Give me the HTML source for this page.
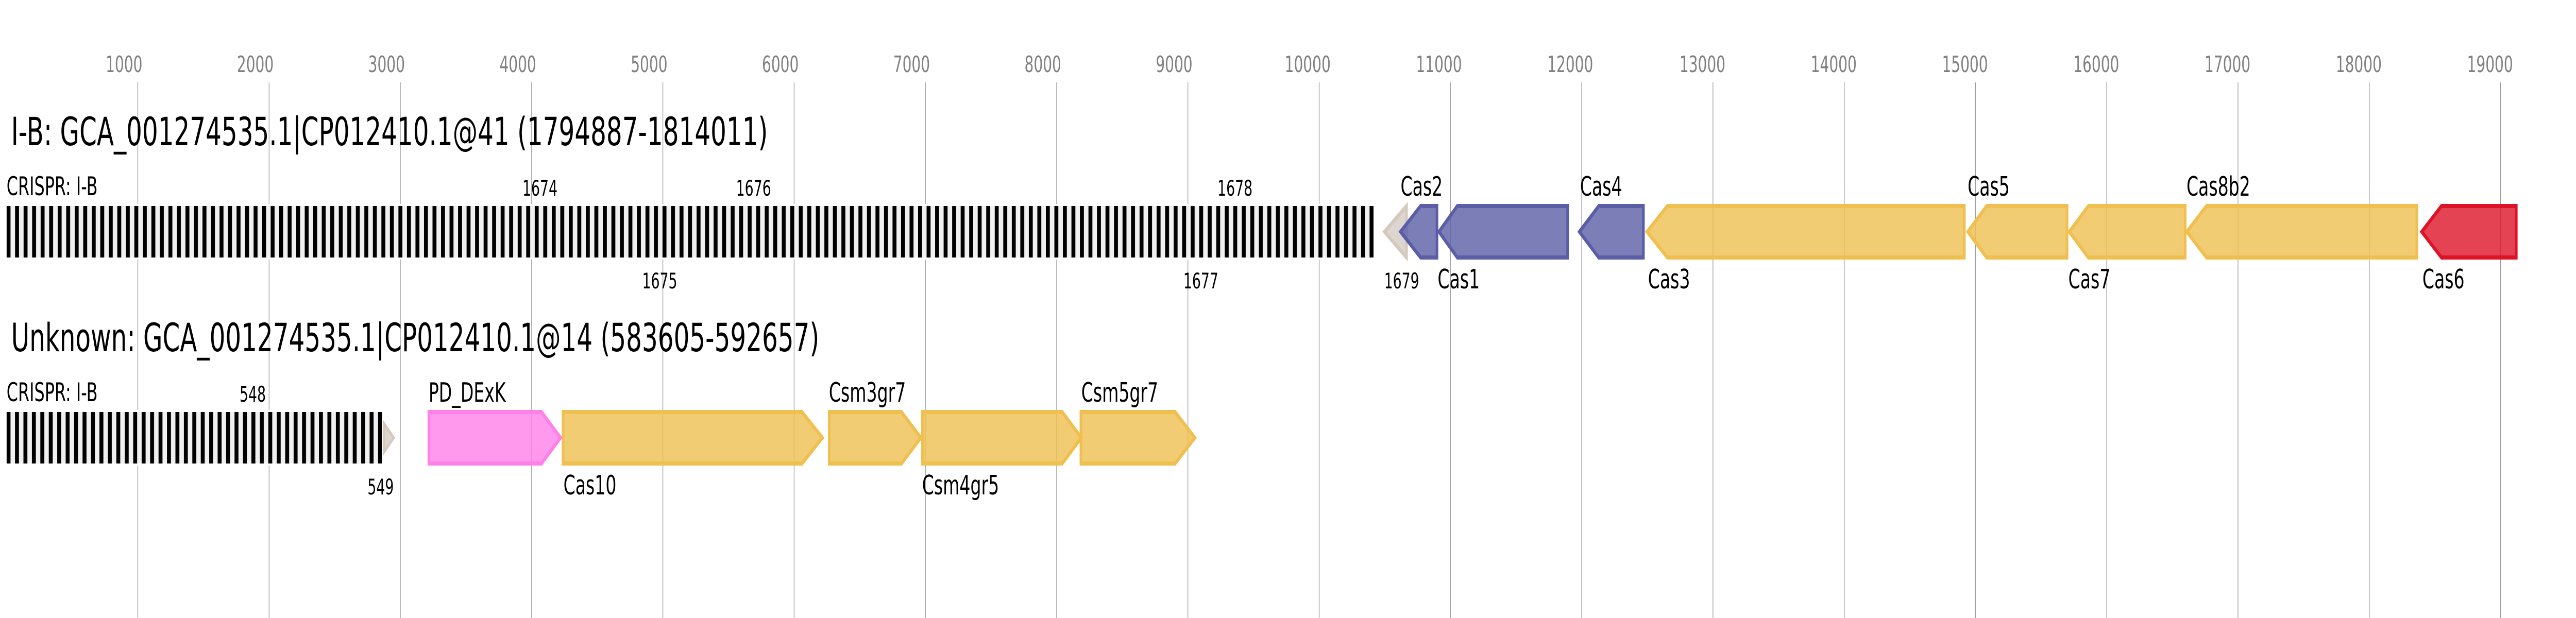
<!DOCTYPE html>
<html><head><meta charset="utf-8"><style>html,body{margin:0;padding:0;background:#fff;width:100%;height:100%;overflow:hidden}svg{display:block;width:100vw;height:100vh}</style></head>
<body>
<svg viewBox="0 0 7850 1200" preserveAspectRatio="none" xmlns="http://www.w3.org/2000/svg" font-family="'DejaVu Sans','Liberation Sans',sans-serif">
<defs>
<pattern id="rep" patternUnits="userSpaceOnUse" x="20" y="0" width="25.96" height="10">
<rect x="0" y="0" width="25.96" height="10" fill="#f0f0f0"/>
<rect x="0" y="0" width="12" height="10" fill="#000"/>
</pattern>
<pattern id="rep2" patternUnits="userSpaceOnUse" x="20" y="0" width="25.73" height="10">
<rect x="0" y="0" width="25.73" height="10" fill="#f0f0f0"/>
<rect x="0" y="0" width="12" height="10" fill="#000"/>
</pattern>
</defs>
<rect width="7850" height="1200" fill="#fff"/>
<g stroke="#9a9a9a" stroke-width="2">
<line x1="420" y1="160" x2="420" y2="1200"/><line x1="820" y1="160" x2="820" y2="1200"/><line x1="1220" y1="160" x2="1220" y2="1200"/><line x1="1620" y1="160" x2="1620" y2="1200"/><line x1="2020" y1="160" x2="2020" y2="1200"/><line x1="2420" y1="160" x2="2420" y2="1200"/><line x1="2820" y1="160" x2="2820" y2="1200"/><line x1="3220" y1="160" x2="3220" y2="1200"/><line x1="3620" y1="160" x2="3620" y2="1200"/><line x1="4020" y1="160" x2="4020" y2="1200"/><line x1="4420" y1="160" x2="4420" y2="1200"/><line x1="4820" y1="160" x2="4820" y2="1200"/><line x1="5220" y1="160" x2="5220" y2="1200"/><line x1="5620" y1="160" x2="5620" y2="1200"/><line x1="6020" y1="160" x2="6020" y2="1200"/><line x1="6420" y1="160" x2="6420" y2="1200"/><line x1="6820" y1="160" x2="6820" y2="1200"/><line x1="7220" y1="160" x2="7220" y2="1200"/><line x1="7620" y1="160" x2="7620" y2="1200"/>
</g>
<g fill="#808080" font-size="44" text-anchor="middle">
<text x="378" y="140">1000</text><text x="778" y="140">2000</text><text x="1178" y="140">3000</text><text x="1578" y="140">4000</text><text x="1978" y="140">5000</text><text x="2378" y="140">6000</text><text x="2778" y="140">7000</text><text x="3178" y="140">8000</text><text x="3578" y="140">9000</text><text x="3985" y="140">10000</text><text x="4385" y="140">11000</text><text x="4785" y="140">12000</text><text x="5188" y="140">13000</text><text x="5588" y="140">14000</text><text x="5988" y="140">15000</text><text x="6388" y="140">16000</text><text x="6788" y="140">17000</text><text x="7188" y="140">18000</text><text x="7588" y="140">19000</text>
</g>

<text x="34" y="282" font-size="76" fill="#000">I-B: GCA_001274535.1|CP012410.1@41 (1794887-1814011)</text>
<text x="20" y="379" font-size="50" fill="#000">CRISPR: I-B</text>
<rect x="20" y="400" width="4166" height="100" fill="url(#rep)" stroke="#fff" stroke-width="8"/>
<rect x="20" y="400" width="4166" height="100" fill="url(#rep)"/>
<g font-size="42" fill="#000">
<text x="1592" y="380">1674</text><text x="2243" y="380">1676</text><text x="3710" y="380">1678</text>
<text x="1957" y="560">1675</text><text x="3606" y="560">1677</text><text x="4218" y="560">1679</text>
</g>
<polygon points="4286,400 4286,500 4219,450" fill="#ddd6d0" stroke="#d5c9bd" stroke-width="8"/>
<g stroke-width="8" fill-opacity="0.8">
<polygon points="4379,400 4379,500 4329,500 4268,450 4329,400" fill="#5b5ea6" stroke="#5b5ea6"/>
<polygon points="4777,400 4777,500 4441,500 4385,450 4441,400" fill="#5b5ea6" stroke="#5b5ea6"/>
<polygon points="5008,400 5008,500 4872,500 4813,450 4872,400" fill="#5b5ea6" stroke="#5b5ea6"/>
<polygon points="5986,400 5986,500 5081,500 5019,450 5081,400" fill="#efbf50" stroke="#efbf50"/>
<polygon points="6299,400 6299,500 6054,500 5997,450 6054,400" fill="#efbf50" stroke="#efbf50"/>
<polygon points="6659,400 6659,500 6364,500 6306,450 6364,400" fill="#efbf50" stroke="#efbf50"/>
<polygon points="7365,400 7365,500 6724,500 6664,450 6724,400" fill="#efbf50" stroke="#efbf50"/>
<polygon points="7668,400 7668,500 7440,500 7380,450 7440,400" fill="#dc1428" stroke="#dc1428"/>
</g>
<g font-size="52" fill="#000">
<text x="4268" y="380">Cas2</text><text x="4815" y="380">Cas4</text><text x="5996" y="380">Cas5</text><text x="6663" y="380">Cas8b2</text>
<text x="4381" y="560">Cas1</text><text x="5022" y="560">Cas3</text><text x="6303" y="560">Cas7</text><text x="7382" y="560">Cas6</text>
</g>

<text x="34" y="682" font-size="76" fill="#000">Unknown: GCA_001274535.1|CP012410.1@14 (583605-592657)</text>
<text x="20" y="779" font-size="50" fill="#000">CRISPR: I-B</text>
<rect x="20" y="800" width="1144" height="100" fill="url(#rep2)" stroke="#fff" stroke-width="8"/>
<rect x="20" y="800" width="1144" height="100" fill="url(#rep2)"/>
<g font-size="42" fill="#000"><text x="730" y="780">548</text><text x="1120" y="960">549</text></g>
<polygon points="1170,822 1170,878 1200,850" fill="#ddd6d0" stroke="#d5c9bd" stroke-width="6"/>
<g stroke-width="8" fill-opacity="0.8">
<polygon points="1307,800 1650,800 1708,850 1650,900 1307,900" fill="#ff80e8" stroke="#ff80e8"/>
<polygon points="1716,800 2444,800 2506,850 2444,900 1716,900" fill="#efbf50" stroke="#efbf50"/>
<polygon points="2527,800 2747,800 2806,850 2747,900 2527,900" fill="#efbf50" stroke="#efbf50"/>
<polygon points="2811,800 3237,800 3295,850 3237,900 2811,900" fill="#efbf50" stroke="#efbf50"/>
<polygon points="3294,800 3581,800 3641,850 3581,900 3294,900" fill="#efbf50" stroke="#efbf50"/>
</g>
<g font-size="52" fill="#000">
<text x="1306" y="780">PD_DExK</text><text x="2526" y="780">Csm3gr7</text><text x="3295" y="780">Csm5gr7</text>
<text x="1717" y="960">Cas10</text><text x="2810" y="960">Csm4gr5</text>
</g>
</svg>
</body></html>
